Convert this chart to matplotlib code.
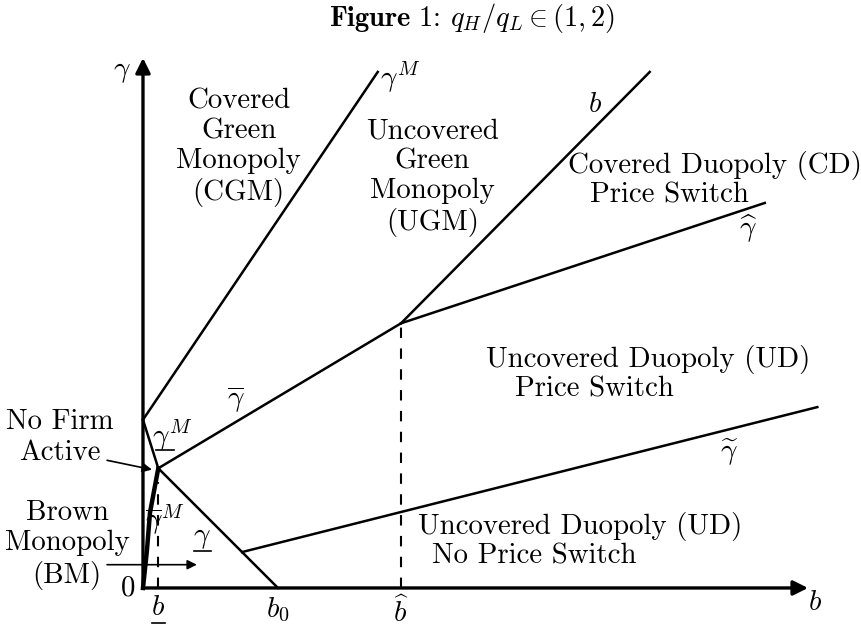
import matplotlib.pyplot as plt

plt.rcParams['font.family'] = 'cmr10'
plt.rcParams['mathtext.fontset'] = 'cm'
plt.rcParams['axes.formatter.use_mathtext'] = True

# key points of the diagram (b, gamma)
b_low, g_P = 0.23, 1.80        # no-firm-active corner
g_axis = 2.53                  # where gamma^M and underline gamma^M meet the axis
b_hat, g_Q = 3.88, 3.98        # corner at b-hat
b0 = 2.03

gM_b = [0.0, 3.53]
gM_g = [g_axis, 7.76]
gM_low_b = [0.0, b_low]
gM_low_g = [g_axis, g_P]
gM_bar_b = [0.0, 0.06, 0.105, b_low]
gM_bar_g = [0.0, 0.57, 1.13, g_P]
gbar_b = [b_low, b_hat]
gbar_g = [g_P, g_Q]
gunder_b = [b_low, b0]
gunder_g = [g_P, 0.0]
bline_b = [b_hat, 7.62]
bline_g = [g_Q, 7.76]
ghat_b = [b_hat, 9.35]
ghat_g = [g_Q, 5.79]
gtil_b = [1.49, 10.14]
gtil_g = [0.54, 2.72]

fs = 20.8
fig = plt.figure(figsize=(8.62, 6.30), dpi=100)
ax = fig.add_axes([0, 0, 1, 1])
ax.set_xlim(-2.150, 10.812)
ax.set_ylim(-0.632, 8.842)
ax.axis('off')


def under(x, y, s, x0, x1, dy):
    # mathtext has no \underline, so draw the bar by hand
    ax.text(x, y, s, fontsize=fs, ha='center', va='center')
    ax.plot([x + x0, x + x1], [y - dy, y - dy], color='k', lw=1.2)


# axes with arrows
ax.annotate('', xy=(10.0, 0), xytext=(0, 0),
            arrowprops=dict(arrowstyle='-|>', lw=2.4, color='k', mutation_scale=22, shrinkA=0, shrinkB=0))
ax.annotate('', xy=(0, 7.97), xytext=(0, 0),
            arrowprops=dict(arrowstyle='-|>', lw=2.4, color='k', mutation_scale=22, shrinkA=0, shrinkB=0))

lw = 1.8
ax.plot(gM_b, gM_g, color='k', lw=lw)
ax.plot(gM_low_b, gM_low_g, color='k', lw=lw)
ax.plot(gM_bar_b, gM_bar_g, color='k', lw=3.2)
ax.plot(gbar_b, gbar_g, color='k', lw=lw)
ax.plot(gunder_b, gunder_g, color='k', lw=lw)
ax.plot(bline_b, bline_g, color='k', lw=lw)
ax.plot(ghat_b, ghat_g, color='k', lw=lw)
ax.plot(gtil_b, gtil_g, color='k', lw=lw)

ax.plot([b_low, b_low], [0, g_P - 0.2], color='k', lw=1.5, ls=(0, (5, 5)))
ax.plot([b_hat, b_hat], [0, g_Q], color='k', lw=1.5, ls=(0, (5, 5)))

# arrows from left labels
ax.annotate('', xy=(0.135, 1.78), xytext=(-0.54, 1.92),
            arrowprops=dict(arrowstyle='-|>', lw=1.2, color='k', mutation_scale=14, shrinkA=0, shrinkB=0))
ax.annotate('', xy=(0.81, 0.35), xytext=(-0.54, 0.35),
            arrowprops=dict(arrowstyle='-|>', lw=1.2, color='k', mutation_scale=14, shrinkA=0, shrinkB=0))

# curve labels
ax.text(-0.32, 7.76, r'$\gamma$', fontsize=fs, ha='center', va='center')
ax.text(3.86, 7.67, r'$\gamma^M$', fontsize=fs, ha='center', va='center')
ax.text(6.80, 7.26, r'$b$', fontsize=fs, ha='center', va='center')
ax.text(9.11, 5.41, r'$\widehat{\gamma}$', fontsize=fs, ha='center', va='center')
ax.text(8.81, 2.03, r'$\widetilde{\gamma}$', fontsize=fs, ha='center', va='center')
ax.text(1.40, 2.83, r'$\overline{\gamma}$', fontsize=fs, ha='center', va='center')
under(0.44, 2.30, r'$\gamma^M$', -0.24, 0.03, 0.22)
ax.text(0.33, 1.02, r'$\overline{\gamma}^M$', fontsize=fs, ha='center', va='center')
under(0.89, 0.75, r'$\gamma$', -0.13, 0.13, 0.20)

# axis tick labels
ax.text(-0.22, 0.0, '0', fontsize=fs, ha='center', va='center')
under(b_low, -0.30, r'$b$', -0.1, 0.1, 0.22)
ax.text(b0, -0.33, r'$b_0$', fontsize=fs, ha='center', va='center')
ax.text(b_hat, -0.36, r'$\widehat{b}$', fontsize=fs, ha='center', va='center')
ax.text(10.1, -0.23, r'$b$', fontsize=fs, ha='center', va='center')

# regions
ax.text(1.44, 6.62, 'Covered\nGreen\nMonopoly\n(CGM)', fontsize=fs, ha='center', va='center', linespacing=1.17)
ax.text(4.35, 6.17, 'Uncovered\nGreen\nMonopoly\n(UGM)', fontsize=fs, ha='center', va='center', linespacing=1.17)
ax.text(6.39, 6.36, 'Covered Duopoly (CD)', fontsize=fs, ha='left', va='center')
ax.text(6.72, 5.91, 'Price Switch', fontsize=fs, ha='left', va='center')
ax.text(5.16, 3.43, 'Uncovered Duopoly (UD)', fontsize=fs, ha='left', va='center')
ax.text(5.59, 2.98, 'Price Switch', fontsize=fs, ha='left', va='center')
ax.text(4.14, 0.92, 'Uncovered Duopoly (UD)', fontsize=fs, ha='left', va='center')
ax.text(4.35, 0.47, 'No Price Switch', fontsize=fs, ha='left', va='center')
ax.text(-1.25, 2.26, 'No Firm\nActive', fontsize=fs, ha='center', va='center', linespacing=1.22)
ax.text(-1.14, 0.65, 'Brown\nMonopoly\n(BM)', fontsize=fs, ha='center', va='center', linespacing=1.22)

ax.text(4.95, 8.57, r'$\mathbf{Figure\ 1}$: $q_H/q_L \in (1,2)$', fontsize=20.5, ha='center', va='center')

plt.savefig('out.png', dpi=100)
